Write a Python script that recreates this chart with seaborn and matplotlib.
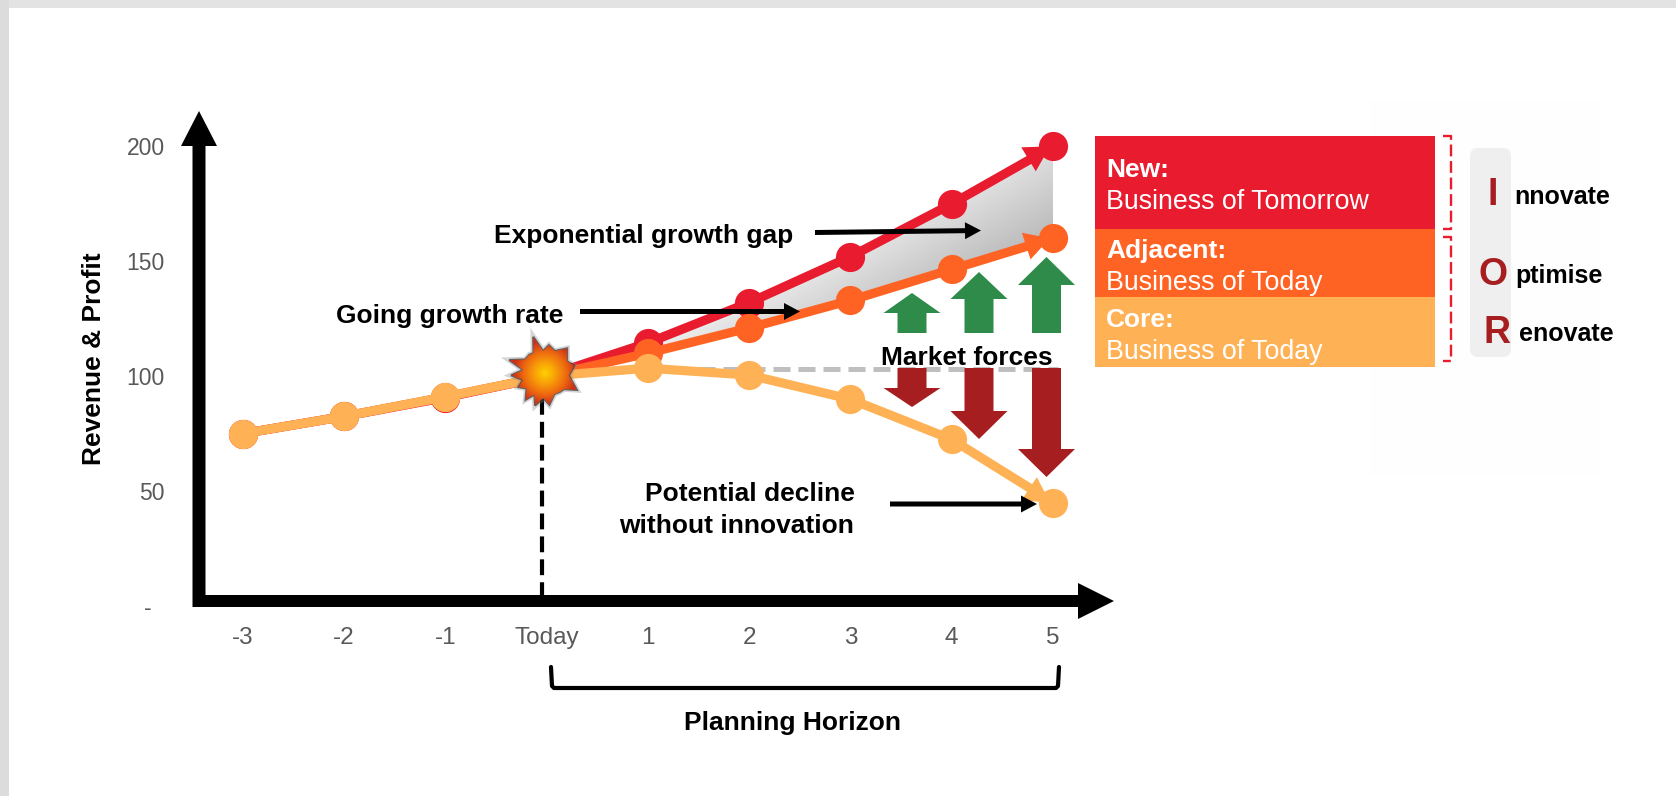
import numpy as np
import pandas as pd
import seaborn as sns
import matplotlib.pyplot as plt
from matplotlib.colors import LinearSegmentedColormap
from matplotlib.patches import FancyBboxPatch, Polygon, Rectangle

# chart values
x_vals = [-3, -2, -1, 0, 1, 2, 3, 4, 5]
x_labels = ["-3", "-2", "-1", "Today", "1", "2", "3", "4", "5"]
new_vals = [75, 82.5, 90.7, 100, 114.5, 132, 152, 175, 200]
adjacent_vals = [75, 82.5, 91, 100, 110, 121, 133, 146.5, 160]
core_vals = [75, 82.5, 91, 100, 103.5, 100.5, 90, 72.5, 45]
y_ticks = [0, 50, 100, 150, 200]
y_labels = ["-  ", "50", "100", "150", "200"]

RED = "#e81c2e"
ORANGE = "#ff6324"
LIGHT = "#ffb155"
DARKRED = "#a61e20"
GREEN = "#2e8b4a"
GREY_TXT = "#595959"

W, H = 1676, 796

sns.set_theme(style="white")
plt.rcParams["font.family"] = ["Liberation Sans", "DejaVu Sans"]

df = pd.DataFrame({
    "x": x_vals * 3,
    "value": new_vals + adjacent_vals + core_vals,
    "series": ["New"] * 9 + ["Adjacent"] * 9 + ["Core"] * 9,
})

fig = plt.figure(figsize=(W / 100, H / 100), dpi=100, facecolor="white")

# main axes sit so that x=-3..5 and y=0..200 land on the picture's scale
left, right, top, bottom = 242.6, 1053.0, 146.4, 606.0
ax = fig.add_axes([left / W, 1 - bottom / H, (right - left) / W, (bottom - top) / H])
ax.patch.set_alpha(0)

sns.lineplot(data=df, x="x", y="value", hue="series", hue_order=["New", "Adjacent", "Core"],
             palette={"New": RED, "Adjacent": ORANGE, "Core": LIGHT}, marker="o", markersize=21,
             markeredgewidth=0, linewidth=6.6, sort=False, legend=False, ax=ax, zorder=4)
for ln in ax.lines:
    ln.set_clip_on(False)
    ln.set_solid_capstyle("butt")

# grey gap between the two growth lines
band = ax.fill_between(x_vals[3:], new_vals[3:], adjacent_vals[3:], color="none", lw=0)
gx, gy = np.meshgrid(np.linspace(0, 5, 200), np.linspace(100, 200, 200))
shade = (224 - 25.25 * (gx - 5) + (gy - 200)) / 255
img = ax.imshow(shade, extent=(0, 5, 100, 200), origin="lower", aspect="auto", cmap="gray",
                vmin=0, vmax=1, zorder=2)
img.set_clip_path(band.get_paths()[0], ax.transData)

ax.plot([1.5, 5.05], [103, 103], color="#bfbfbf", lw=3.6, dashes=(3.4, 1.6), zorder=1, clip_on=False)
ax.plot([-0.04, -0.04], [100, 5], color="black", lw=3, dashes=(3.8, 1.7), zorder=3, clip_on=False)

# arrow heads at the end of each line
head = "-|>,head_length=0.5,head_width=0.28"
for vals, col in [(new_vals, RED), (adjacent_vals, ORANGE), (core_vals, LIGHT)]:
    ann = ax.annotate("", xy=(x_vals[-1] - 0.03, vals[-1]), xytext=(x_vals[-2] + 0.5, (vals[-2] + vals[-1]) / 2),
                      arrowprops=dict(arrowstyle=head, color=col, lw=0, mutation_scale=36, shrinkA=0, shrinkB=0),
                      annotation_clip=False)
    ann.arrow_patch.set_zorder(6)

ax.set_xlim(-3, 5)
ax.set_ylim(0, 200)
ax.set_xticks(x_vals)
ax.set_xticklabels(x_labels, fontsize=17.5, color=GREY_TXT)
ax.set_yticks(y_ticks)
ax.set_yticklabels(y_labels, fontsize=16.5, color=GREY_TXT)
ax.tick_params(axis="x", length=0, pad=15)
ax.tick_params(axis="y", length=0, pad=56)
ax.set_xlabel("")
ax.set_ylabel("")
sns.despine(ax=ax, left=True, bottom=True)

# everything else is placed in picture pixels
pix = fig.add_axes([0, 0, 1, 1])
pix.patch.set_alpha(0)
pix.axis("off")

pix.add_patch(Rectangle((0, 0), W, 7.5, fc="#e3e3e3", lw=0))
pix.add_patch(Rectangle((0, 0), 8.5, H, fc="#dcdcdc", lw=0))
pix.add_patch(Rectangle((1370, 100), 230, 375, fc="#fefefe", lw=0, zorder=0))

# axis arrows
pix.arrow(199, 607, 0, -496, width=13, head_width=36, head_length=35, length_includes_head=True, fc="black", lw=0)
pix.arrow(193, 601, 921, 0, width=12, head_width=36, head_length=36, length_includes_head=True, fc="black", lw=0)

# market force arrows: centre, tail, head base, tip
up_arrows = [(912, 333, 313, 293), (979, 333, 299, 272), (1046.5, 333, 285, 257)]
down_arrows = [(912, 368, 388, 407), (979, 368, 411, 439), (1046.5, 368, 449, 477)]
for spec, col in [(up_arrows, GREEN), (down_arrows, DARKRED)]:
    for cx, tail, base, tip in spec:
        pix.arrow(cx, tail, 0, tip - tail, width=29, head_width=57, head_length=abs(tip - base),
                  length_includes_head=True, fc=col, lw=0, zorder=3)

# explosion
cx, cy = 545, 373
ang = [-108, -95, -82, -66, -48, -28, -14, 6, 28, 40, 52, 66, 82, 94, 107, 116, 126, 140, 152, 163, 176, -172, -160, -146, -130, -120]
rad = [38, 22, 28, 24, 33, 25, 30, 24, 36, 25, 24, 23, 32, 25, 34, 24, 33, 24, 30, 23, 34, 22, 38, 24, 24, 23]
star = np.c_[cx + np.array(rad) * np.cos(np.radians(ang)), cy + np.array(rad) * np.sin(np.radians(ang))]
pix.add_patch(Polygon(star, fc="none", ec="#888888", lw=4, alpha=0.35, zorder=6))
pix.add_patch(Polygon(star, fc="none", ec="#333333", lw=1.6, alpha=0.7, zorder=6))
sx, sy = np.meshgrid(np.linspace(-42, 42, 120), np.linspace(-42, 42, 120))
burst = LinearSegmentedColormap.from_list("burst", ["#ffd000", "#f8a008", "#ee6a10", "#cc3018"])
blast = pix.imshow(np.hypot(sx, sy), extent=(cx - 42, cx + 42, cy + 42, cy - 42), cmap=burst, vmin=0, vmax=32,
                   aspect="auto", zorder=7)
clip = Polygon(star, transform=pix.transData, fc="none", lw=0)
pix.add_patch(clip)
blast.set_clip_path(clip)
pix.set_xlim(0, W)
pix.set_ylim(H, 0)

# callouts
bold = dict(fontsize=19, fontweight="bold", color="black", va="center", zorder=8)
pix.text(494, 236, "Exponential growth gap", ha="left", **bold)
pix.text(336, 316, "Going growth rate", ha="left", **bold)
pix.text(967, 358, "Market forces", ha="center", **bold)
pix.text(855, 494, "Potential decline", ha="right", **bold)
pix.text(854, 526, "without innovation", ha="right", **bold)
pix.text(792, 723, "Planning Horizon", ha="center", **bold)
pix.text(94, 359, "Revenue & Profit", ha="center", rotation=90, **bold)

pointers = [(815, 232.5, 981, 230.5), (580, 311.5, 800, 311.5), (890, 504, 1037, 504)]
for x0, y0, x1, y1 in pointers:
    pix.arrow(x0, y0, x1 - x0, y1 - y0, width=5, head_width=17, head_length=16, length_includes_head=True,
              fc="black", lw=0, zorder=8)

# planning horizon bracket
pix.plot([551, 552, 554, 1056, 1058, 1059], [667, 686, 688, 688, 686, 667], color="black", lw=3)

# segment boxes
box_tops = [136, 229, 297]
box_bottoms = [229, 297, 367]
box_colors = [RED, ORANGE, LIGHT]
box_heads = ["New:", "Adjacent:", "Core:"]
box_subs = ["Business of Tomorrow", "Business of Today", "Business of Today"]
head_y = [170, 251, 320]
sub_y = [202, 283, 352]
for t, b, c, h, s, hy, sy_ in zip(box_tops, box_bottoms, box_colors, box_heads, box_subs, head_y, sub_y):
    pix.add_patch(Rectangle((1095, t), 339.5, b - t, fc=c, lw=0))
    pix.text(1106, hy, h, color="white", fontsize=19, fontweight="bold", va="center")
    pix.text(1106, sy_, s, color="white", fontsize=19.3, va="center")

# dashed red brackets
for y0, y1 in [(136, 229), (237, 361)]:
    pix.plot([1443, 1451, 1451, 1443], [y0, y0, y1, y1], color=RED, lw=1.7, dashes=(5, 2))

# IOR column
pix.add_patch(FancyBboxPatch((1474, 152), 33, 201, boxstyle="round,pad=0,rounding_size=4", mutation_aspect=1,
                             fc="#efefef", ec="#efefef", lw=8 * 72 / 100))
letters = [("I", 1493, 195), ("O", 1493, 275), ("R", 1497, 333)]
words = [("nnovate", 1514, 197), ("ptimise", 1515, 276), ("enovate", 1519, 334)]
for t, x, y in letters:
    pix.text(x, y, t, color=DARKRED, fontsize=27, fontweight="bold", ha="center", va="center")
for t, x, y in words:
    pix.text(x, y, t, color="black", fontsize=18, fontweight="bold", ha="left", va="center")

fig.savefig("out.png", dpi=100)
